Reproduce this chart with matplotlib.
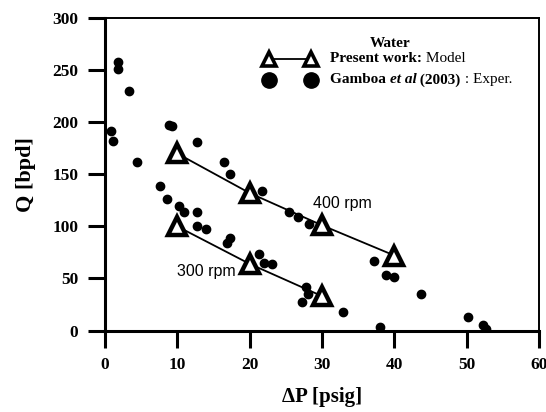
import matplotlib
matplotlib.use('Agg')
import matplotlib.pyplot as plt

# experimental data, Gamboa et al (2003)
exp_dp = [1.84, 1.84, 3.36, 0.87, 1.15, 4.5, 8.88, 9.33, 12.7, 16.4, 17.3,
          7.64, 8.56, 10.26, 11.0, 12.8, 12.7, 14.0, 17.3, 16.9, 21.7, 25.5,
          26.7, 28.2, 21.3, 22.0, 23.1, 37.2, 38.9, 40.0, 27.8, 28.0, 27.3,
          32.9, 43.7, 38.0, 50.2, 52.2, 52.7]
exp_q = [257.9, 251.4, 230, 192, 182.2, 162, 197.3, 196, 181.3, 161.3, 150.2,
         139.2, 126.2, 120, 113.3, 114.2, 100.5, 97.9, 88.6, 83.8, 134.1, 113.9,
         109.4, 102.4, 73.3, 65.2, 63.9, 66.5, 53.4, 51.4, 41.5, 35.1, 27.7,
         17.8, 35.1, 3.4, 13.3, 5.0, 1.4]

# model
m300_dp = [10, 20, 30]
m300_q = [100, 64, 33]
m400_dp = [10, 20, 30, 40]
m400_q = [170, 132, 101, 72]

serif = ['Liberation Serif', 'DejaVu Serif']
sans = ['Liberation Sans', 'DejaVu Sans']

fig = plt.figure(figsize=(5.46, 4.12), dpi=100)
ax = fig.add_axes([0.1918, 0.1978, 0.7959, 0.7585])

tri = dict(marker='^', markersize=12.5, markerfacecolor='white',
           markeredgecolor='black', markeredgewidth=3.2, color='black', lw=1.3)
ax.plot(m400_dp, m400_q, **tri)
ax.plot(m300_dp, m300_q, **tri)
ax.plot(exp_dp, exp_q, 'o', color='black', markersize=6, lw=0)

ax.text(28.8, 122, '400 rpm', family=sans, fontsize=11.5, va='center')
ax.text(10.0, 57, '300 rpm', family=sans, fontsize=11.5, va='center')

# legend drawn by hand
tr = ax.transAxes
fs = 11
ax.plot([0.378, 0.475], [0.869, 0.869], transform=tr, color='black', lw=1.3,
        marker='^', markersize=9.5, markerfacecolor='white',
        markeredgecolor='black', markeredgewidth=2.6)
ax.plot([0.378, 0.475], [0.802, 0.802], 'o', transform=tr, color='black',
        markersize=11)
ax.text(0.656, 0.918, 'Water', transform=tr, family=serif, fontsize=fs,
        fontweight='bold', ha='center', va='center')
t1 = ax.text(0.518, 0.869, 'Present work:', transform=tr, family=serif,
             fontsize=fs, fontweight='bold', va='center')
ax.annotate(' Model', xy=(1, 0.5), xycoords=t1, family=serif, fontsize=fs,
            va='center')
t2 = ax.text(0.518, 0.802, 'Gamboa ', transform=tr, family=serif,
             fontsize=fs, fontweight='bold', va='center')
t3 = ax.annotate('et al', xy=(1, 0.5), xycoords=t2, family=serif, fontsize=fs,
                 fontweight='bold', style='italic', va='center')
t4 = ax.annotate(' (2003)', xy=(1, 0.5), xycoords=t3, family=serif,
                 fontsize=fs, fontweight='bold', va='center')
ax.annotate(' : Exper.', xy=(1, 0.5), xycoords=t4, family=serif, fontsize=fs,
            va='center')

ax.set_xlim(0, 60)
ax.set_ylim(0, 300)
ax.set_xticks(range(0, 61, 10))
ax.set_yticks(range(0, 301, 50))
ax.spines['left'].set_linewidth(2.2)
ax.spines['bottom'].set_linewidth(2.2)
ax.spines['top'].set_linewidth(1.4)
ax.spines['right'].set_linewidth(1.4)
ax.tick_params(direction='out', length=12, width=2.2, pad=7)
for lab in ax.get_xticklabels() + ax.get_yticklabels():
    lab.set_family(serif)
    lab.set_fontweight('bold')
    lab.set_fontsize(12.5)

ax.set_xlabel('\u0394P [psig]', family=serif, fontweight='bold',
              fontsize=15, labelpad=10)
ax.set_ylabel('Q [bpd]', family=serif, fontweight='bold', fontsize=16,
              labelpad=12)

fig.savefig('out.png', dpi=100)
